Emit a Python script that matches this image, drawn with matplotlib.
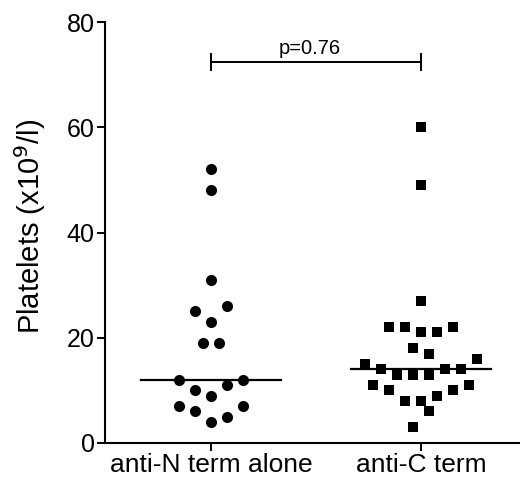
import matplotlib
matplotlib.use("Agg")
import matplotlib.pyplot as plt
import numpy as np

plt.rcParams['font.family'] = ['Liberation Sans', 'DejaVu Sans']

categories = ["anti-N term alone", "anti-C term"]

# platelet counts (x10^9/l) per patient
n_term_values = [52, 48, 31, 25, 26, 23, 19, 19, 12, 12, 10, 11, 9, 7, 6, 7, 4, 5]
n_term_slots = [0, 0, 0, -1, 1, 0, -0.5, 0.5, -2, 2, -1, 1, 0, -2, -1, 2, 0, 1]

c_term_values = [60, 49, 27, 22, 22, 22, 21, 21, 18, 17, 15, 16, 14, 14, 14,
                 13, 13, 13, 11, 11, 10, 10, 9, 8, 8, 6, 3]
c_term_slots = [0, 0, 0, -2, -1, 2, 0, 1, -0.5, 0.5, -3.5, 3.5, -2.5, 1.5, 2.5,
                -1.5, -0.5, 0.5, -3, 3, -2, 2, 1, -1, 0, 0.5, -0.5]

p_text = "p=0.76"
yticks = [0, 20, 40, 60, 80]

fig = plt.figure(figsize=(5.20, 4.79), dpi=100)
ax = fig.add_axes([105 / 520, 1 - 443 / 479, 415 / 520, 421 / 479])

step = 16 / 210
groups = [(n_term_values, n_term_slots, 'o', 8.0),
          (c_term_values, c_term_slots, 's', 7.6)]
for i, (vals, slots, mk, ms) in enumerate(groups):
    xs = i + np.array(slots) * step
    ax.plot(xs, vals, linestyle='none', marker=mk, ms=ms, color='black',
            markeredgewidth=0, clip_on=False)
    med = np.median(vals)
    ax.plot([i - 0.333, i + 0.333], [med, med], color='black', lw=1.6)

# significance bracket
yb = 72.4
cap = 1.5
ax.plot([0, 1], [yb, yb], color='black', lw=1.4)
ax.plot([0, 0], [yb - cap, yb + cap], color='black', lw=1.4)
ax.plot([1, 1], [yb - cap, yb + cap], color='black', lw=1.4)
ax.text(0.47, 73.9, p_text, ha='center', va='baseline', fontsize=14.5)

ax.set_xlim(-0.505, 1.471)
ax.set_ylim(0, 80)
ax.set_yticks(yticks)
ax.set_xticks([0, 1])
ax.set_xticklabels(categories)
ax.tick_params(axis='both', width=1.4, length=5.5, pad=2, direction='out')
ax.tick_params(axis='y', labelsize=18)
ax.tick_params(axis='x', labelsize=19)
ax.set_ylabel("Platelets (x10$^{9}$/l)", fontsize=21)
ax.yaxis.set_label_coords(-0.137, 0.515)

for side in ['top', 'right']:
    ax.spines[side].set_visible(False)
for side in ['left', 'bottom']:
    ax.spines[side].set_linewidth(1.5)

fig.savefig("out.png", dpi=100)
